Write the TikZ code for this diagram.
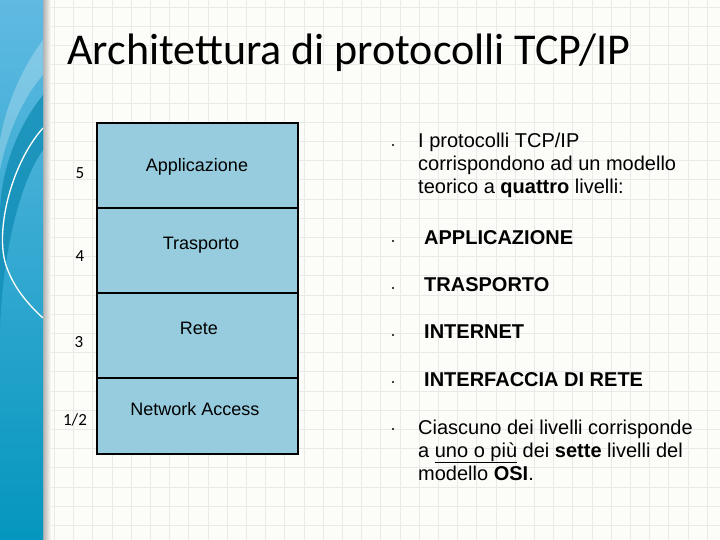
\documentclass[tikz,border=0pt]{standalone}
\usepackage{fontspec}
\setmainfont{Liberation Sans}
\newfontfamily\titlefont{Carlito}
\definecolor{slidebg}{RGB}{252,252,249}
\definecolor{gridgray}{RGB}{233,233,231}
\definecolor{layerblue}{RGB}{150,204,222}
\definecolor{stripetop}{RGB}{96,186,226}
\definecolor{stripebot}{RGB}{4,150,190}
\definecolor{stripedark}{RGB}{18,142,182}
\begin{document}
\begin{tikzpicture}[
    x=1pt, y=-1pt,
    layer_style/.style={rectangle, draw, line width=1.1pt, fill=layerblue, minimum width=201pt, inner sep=0pt},
    layer_text/.style={font=\fontsize{18}{20}\selectfont},
    num_style/.style={font=\titlefont\fontsize{17}{19}\selectfont},
    body_style/.style={font=\fontsize{20}{23}\selectfont, align=left, anchor=base west, inner sep=0pt},
    caps_style/.style={body_style, font=\fontsize{20}{23}\selectfont\bfseries},
    bullet_style/.style={circle, fill=black, minimum size=2.2pt, inner sep=0pt}
]
\useasboundingbox (0,0) rectangle (720,540);
% slide background with grid
\fill[slidebg] (0,0) rectangle (720,540);
\foreach \i in {0,...,37} {
    \draw[gridgray, line width=0.8pt] (16+19.2*\i,0) -- (16+19.2*\i,540);
}
\foreach \j in {0,...,28} {
    \draw[gridgray, line width=0.8pt] (0,7+19.2*\j) -- (720,7+19.2*\j);
}
% blue stripe on the left
\shade[left color=black!30, right color=slidebg] (43,0) rectangle (51,540);
\begin{scope}
    \clip (0,0) rectangle (43,540);
    \shade[top color=stripetop, bottom color=stripebot] (0,0) rectangle (43,540);
    \fill[white, opacity=0.25] (43,40) .. controls (20,70) and (5,110) .. (0,140)
        -- (0,170) .. controls (8,130) and (25,95) .. (43,75) -- cycle;
    \fill[stripedark, opacity=0.8] (43,95) .. controls (15,130) and (0,175) .. (0,215)
        -- (0,330) .. controls (2,260) and (18,185) .. (43,150) -- cycle;
    \draw[white, line width=1.3pt] (43,128) .. controls (10,165) and (-6,235) .. (7,268)
        .. controls (15,290) and (30,306) .. (43,318);
\end{scope}
% title
\node[font=\titlefont\fontsize{44}{48}\selectfont, anchor=base west, inner sep=0pt] (title) at (67,65) {Architettura di protocolli TCP/IP};
% layer stack
\node[layer_style, minimum height=85pt] (app) at (197.5,165.5) {};
\node[layer_style, minimum height=85pt] (tra) at (197.5,250.5) {};
\node[layer_style, minimum height=85pt] (ret) at (197.5,335.5) {};
\node[layer_style, minimum height=76pt] (acc) at (197.5,416) {};
\node[layer_text] (appt) at (197,167) {Applicazione};
\node[layer_text] (trat) at (201,245) {Trasporto};
\node[layer_text] (rett) at (199,328) {Rete};
\node[layer_text] (acct) at (195,409) {Network Access};
% layer numbers
\node[num_style] (n5) at (80,173) {5};
\node[num_style] (n4) at (80,256) {4};
\node[num_style] (n3) at (79,342) {3};
\node[num_style] (n12) at (75,420) {1/2};
% bullet list
\foreach \y/\nm in {145/b1, 241/b2, 288/b3, 335/b4, 382/b5, 429/b6} {
    \node[bullet_style] (\nm) at (393,\y) {};
}
% multi-line texts sit on the baseline of their last line
\node[body_style] (intro) at (418,194) {I protocolli TCP/IP\\corrispondono ad un modello\\teorico a \textbf{quattro} livelli:};
\node[caps_style] (lapp) at (424,244) {APPLICAZIONE};
\node[caps_style] (ltra) at (424,291) {TRASPORTO};
\node[caps_style] (lint) at (424,338) {INTERNET};
\node[caps_style] (lifc) at (424,386) {INTERFACCIA DI RETE};
\node[body_style] (osi) at (418,480) {Ciascuno dei livelli corrisponde\\a \underline{uno o più} dei \textbf{sette} livelli del\\modello \textbf{OSI}.};
\end{tikzpicture}
\end{document}
